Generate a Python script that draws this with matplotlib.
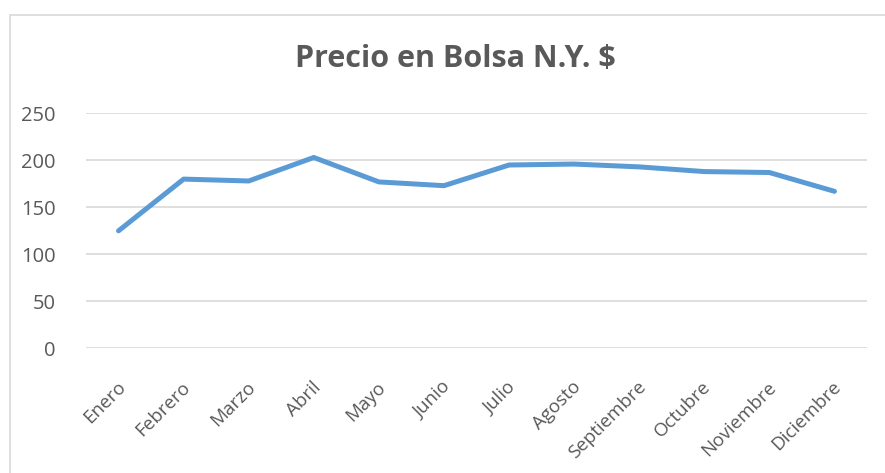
#!/usr/bin/env python3
"""Precio en Bolsa N.Y. $ -- monthly line chart, Excel style."""

import matplotlib

matplotlib.use("Agg")
import matplotlib.pyplot as plt
from matplotlib.patches import Rectangle
from matplotlib.transforms import ScaledTranslation

# Data.
meses = [
    "Enero", "Febrero", "Marzo", "Abril", "Mayo", "Junio",
    "Julio", "Agosto", "Septiembre", "Octubre", "Noviembre", "Diciembre",
]
precio = [125, 180, 178, 203, 177, 173, 195, 196, 193, 188, 187, 167]
y_ticks = [0, 50, 100, 150, 200, 250]

TEXT = "#595959"
GRID = "#d9d9d9"
LINE = "#5b9bd5"

plt.rcParams["font.family"] = ["Open Sans", "DejaVu Sans"]

fig = plt.figure(figsize=(8.85, 4.73), dpi=100)
ax = fig.add_axes([86 / 885, 1 - 348.3 / 473, (867 - 86) / 885, (348.3 - 113.3) / 473])

# Light frame of the chart area (runs off the right/bottom of the image).
fig.patches.append(
    Rectangle((10 / 885, -0.1), 1.0, 1 - 15 / 473 + 0.1,
              transform=fig.transFigure, fill=False, edgecolor=GRID, linewidth=1.2)
)

x = list(range(len(meses)))
ax.plot(x, precio, color=LINE, linewidth=3.6, solid_capstyle="round",
        solid_joinstyle="round", zorder=3)

ax.set_xlim(-0.5, len(meses) - 0.5)
ax.set_ylim(0, 250)
ax.set_yticks(y_ticks)
ax.set_xticks(x)
ax.set_xticklabels(meses, rotation=45, ha="right", va="center",
                   rotation_mode="anchor")
ax.tick_params(axis="y", length=0, pad=22, labelsize=14.5, labelcolor=TEXT)
ax.tick_params(axis="x", length=0, pad=26, labelsize=13.5, labelcolor=TEXT)
# nudge month labels a touch right, as in the reference
shift = ScaledTranslation(4 / 100, 0, fig.dpi_scale_trans)
for lab in ax.get_xticklabels():
    lab.set_transform(lab.get_transform() + shift)

ax.grid(axis="y", color=GRID, linewidth=1.2)
ax.set_axisbelow(True)
for s in ax.spines.values():
    s.set_visible(False)

fig.text(455 / 885, 1 - 59 / 473, "Precio en Bolsa N.Y. $", ha="center", va="center",
         fontsize=22, fontweight="bold", color=TEXT)

fig.savefig("out.png", dpi=100)
